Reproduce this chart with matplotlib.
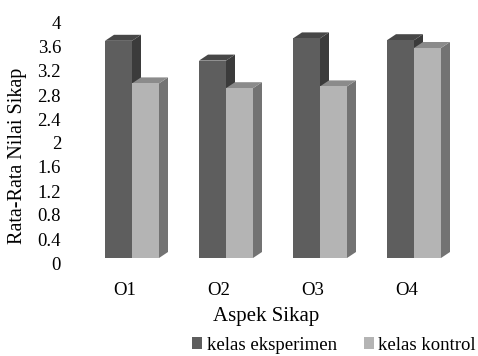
import matplotlib
matplotlib.use("Agg")
import matplotlib.pyplot as plt
from matplotlib.patches import Polygon, Patch
import numpy as np

plt.rcParams['font.family'] = ['Liberation Serif', 'DejaVu Serif']

categories = ["O1", "O2", "O3", "O4"]
eksperimen = [3.62, 3.29, 3.66, 3.63]
kontrol = [2.91, 2.83, 2.86, 3.50]
yticks = [0, 0.4, 0.8, 1.2, 1.6, 2, 2.4, 2.8, 3.2, 3.6, 4]
ytick_labels = ["0", "0.4", "0.8", "1.2", "1.6", "2", "2.4", "2.8", "3.2", "3.6", "4"]

# face colours: front, top, side
dark = ("#5e5e5e", "#474747", "#3b3b3b")
light = ("#b4b4b4", "#8b8b8b", "#737373")

W, H = 478, 356
fig = plt.figure(figsize=(W / 100, H / 100), dpi=100)

# axes placement in pixels
ax_l, ax_r, ax_b, ax_t = 68, 472, 263, 18
px_x = 94.0   # pixels per category
px_y = 60.0   # pixels per value unit
c0 = 125      # pixel x of first category
ax = fig.add_axes([ax_l / W, (H - ax_b) / H, (ax_r - ax_l) / W, (ax_b - ax_t) / H])
ax.set_xlim(-(c0 - ax_l) / px_x, (ax_r - c0) / px_x)
ax.set_ylim(0, (ax_b - ax_t) / px_y)

# 3-D look: gap to the floor front and bar depth
gx, gy = 7 / px_x, 5 / px_y
dx, dy = 9 / px_x, 6 / px_y
w = 27 / px_x


def bar3d(x0, v, cols):
    b = gy
    t = gy + v
    side = Polygon([(x0 + w, b), (x0 + w + dx, b + dy), (x0 + w + dx, t + dy), (x0 + w, t)],
                   closed=True, facecolor=cols[2], edgecolor='none')
    top = Polygon([(x0, t), (x0 + w, t), (x0 + w + dx, t + dy), (x0 + dx, t + dy)],
                  closed=True, facecolor=cols[1], edgecolor='none')
    ax.add_patch(side)
    ax.add_patch(top)
    ax.bar(x0, v, width=w, bottom=b, align='edge', color=cols[0], linewidth=0)


x = np.arange(len(categories))
for i in range(len(categories)):
    bar3d(x[i] + gx - w, eksperimen[i], dark)
    bar3d(x[i] + gx, kontrol[i], light)

for s in ax.spines.values():
    s.set_visible(False)
ax.set_yticks(yticks)
ax.set_yticklabels(ytick_labels, fontsize=13.5)
ax.set_xticks(x)
ax.set_xticklabels(categories, fontsize=13.5)
ax.tick_params(axis='y', length=0, pad=5)
ax.tick_params(axis='x', length=0, pad=14)

fig.text(18 / W, 1 - 156 / H, "Rata-Rata Nilai Sikap", rotation=90,
         ha='center', va='center', fontsize=14.5)
fig.text(266 / W, 1 - 316 / H, "Aspek Sikap", ha='center', va='center', fontsize=15)

handles = [Patch(facecolor=dark[0], edgecolor='none'), Patch(facecolor=light[0], edgecolor='none')]
fig.legend(handles, ["kelas eksperimen", "kelas kontrol"], ncol=2, frameon=False,
           fontsize=13.5, loc='center right', bbox_to_anchor=(1.0, 1 - 345 / H),
           borderaxespad=0.0, borderpad=0.1,
           handlelength=0.55, handleheight=0.55, handletextpad=0.25, columnspacing=1.4)

fig.savefig("out.png", dpi=100)
